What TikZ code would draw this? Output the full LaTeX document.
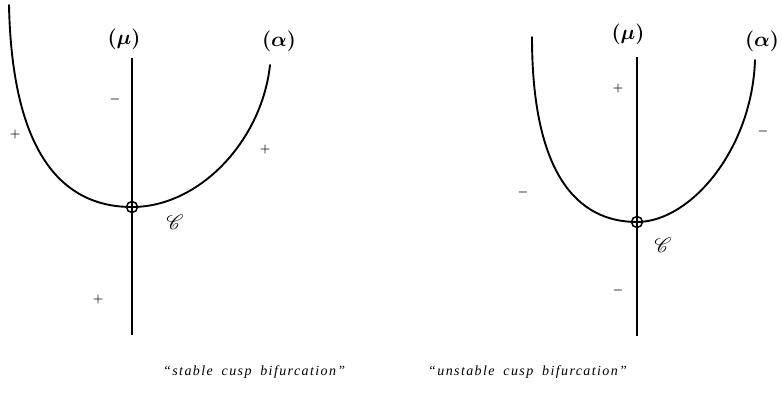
\documentclass[tikz,border=0pt]{standalone}
\usepackage{fontspec}
\usepackage{amsmath}
\usepackage{mathrsfs}
\newfontfamily\capfont[LetterSpace=10,WordSpace=1.8,Ligatures=TeX]{Liberation Serif}
\usetikzlibrary{positioning}
\tikzset{
  branch/.style={line width=1.9pt,line cap=round},
  axisline/.style={line width=2pt},
  axislbl/.style={font=\fontsize{21}{23}\selectfont\boldmath,inner sep=1pt},
  signlbl/.style={font=\large\boldmath,inner sep=0pt},
  cusp/.style={circle,draw,line width=1.5pt,minimum size=11pt,inner sep=0pt},
  ptlbl/.style={font=\fontsize{20}{22}\selectfont\boldmath,inner sep=1pt},
  caption/.style={font=\capfont\itshape\fontsize{14}{16}\selectfont,inner sep=0pt},
}

\begin{document}
\begin{tikzpicture}[x=1pt,y=-1pt]
  \useasboundingbox (0,0) rectangle (782,393);

  % ===== left panel: stable cusp =====
  \node[cusp] (cL) at (132,207) {};
  \coordinate (muLtop) at (132,58);
  \coordinate (muLbot) at (132,335);
  \coordinate (alLtop) at (9,5);
  \coordinate (alLend) at (270,65);
  \draw[axisline] (muLtop) -- (muLbot);
  \draw[branch] (alLtop) .. controls (12,150) and (60,207) .. (cL.center)
    .. controls (200,207) and (262,140) .. (alLend);
  \draw[line width=1.2pt] (cL.west) -- (cL.east);
  \node[axislbl] (muL) at (124,39) {$(\mu)$};
  \node[axislbl] (alL) at (279,41) {$(\alpha)$};
  \node[ptlbl] (CL) at (175,222) {$\mathscr{C}$};
  % signs of the regions
  \node[signlbl] (sL1) at (115,100) {$-$};
  \node[signlbl] (sL2) at (15,135) {$+$};
  \node[signlbl] (sL3) at (265,150) {$+$};
  \node[signlbl] (sL4) at (98,299) {$+$};
  \node[caption,anchor=west] (capL) at (163,372) {``stable cusp bifurcation''};

  % ===== right panel: unstable cusp =====
  \node[cusp] (cR) at (637,222) {};
  \coordinate (muRtop) at (637,57);
  \coordinate (muRbot) at (637,336);
  \coordinate (alRtop) at (532,37);
  \coordinate (alRend) at (755,60);
  \draw[axisline] (muRtop) -- (muRbot);
  \draw[branch] (alRtop) .. controls (532,172) and (576,222) .. (cR.center)
    .. controls (690,222) and (752,150) .. (alRend);
  \draw[line width=1.2pt] (cR.west) -- (cR.east);
  \node[axislbl] (muR) at (628,34) {$(\mu)$};
  \node[axislbl] (alR) at (762,41) {$(\alpha)$};
  \node[ptlbl] (CR) at (663,245) {$\mathscr{C}$};
  % signs of the regions
  \node[signlbl] (sR1) at (618,89) {$+$};
  \node[signlbl] (sR2) at (763,132) {$-$};
  \node[signlbl] (sR3) at (523,193) {$-$};
  \node[signlbl] (sR4) at (618,290) {$-$};
  \node[caption,anchor=west] (capR) at (428,372) {``unstable cusp bifurcation''};
\end{tikzpicture}
\end{document}
